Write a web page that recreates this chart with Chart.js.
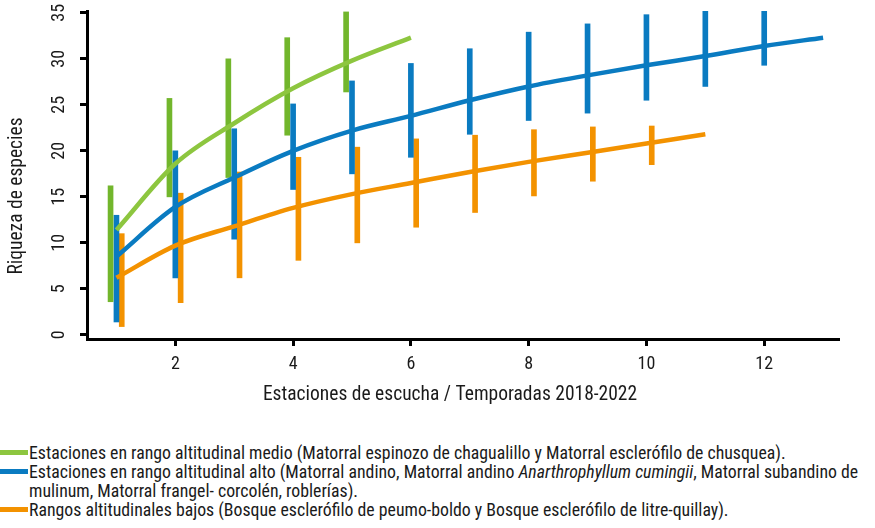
<!DOCTYPE html>
<html>
<head>
<meta charset="utf-8">
<script src="https://cdn.jsdelivr.net/npm/chart.js@4.4.0/dist/chart.umd.min.js"></script>
<style>
  body { margin: 0; background: #fff; font-family: "Roboto Condensed", "DejaVu Sans Condensed", sans-serif; }
  #wrap { position: relative; width: 875px; height: 410px; }
  #legend { position: absolute; left: 0; top: 443px; width: 875px; font-size: 17.8px; line-height: 19px; color: #1a1a1a; white-space: nowrap; }
  .row { position: relative; padding-left: 29px; }
  .sw { position: absolute; left: 0; top: 7px; width: 28px; height: 5px; }
</style>
</head>
<body>
<div id="wrap"><canvas id="myChart" width="875" height="410"></canvas></div>
<div id="legend">
  <div class="row"><span class="sw" style="background:#8dc63f"></span>Estaciones en rango altitudinal medio (Matorral espinozo de chagualillo y Matorral esclerófilo de chusquea).</div>
  <div class="row"><span class="sw" style="background:#0a7bc1"></span>Estaciones en rango altitudinal alto (Matorral andino, Matorral andino <i>Anarthrophyllum cumingii</i>, Matorral subandino de<br>mulinum, Matorral frangel- corcolén, roblerías).</div>
  <div class="row"><span class="sw" style="background:#f39200"></span>Rangos altitudinales bajos (Bosque esclerófilo de peumo-boldo y Bosque esclerófilo de litre-quillay).</div>
</div>
<script>
//DATA - estaciones (eje x) y riqueza de especies
const medioX = [1, 2, 3, 4, 5, 6];
const medioMean = [11.4, 18.6, 23.0, 26.8, 29.8, 32.3];
const medioLow = [3.6, 15.0, 17.1, 21.7, 26.4];
const medioHigh = [16.2, 25.7, 30.0, 32.3, 35.1];

const altoX = [1, 2, 3, 4, 5, 6, 7, 8, 9, 10, 11, 12, 13];
const altoMean = [8.5, 13.9, 17.1, 20.0, 22.2, 23.8, 25.5, 27.0, 28.2, 29.3, 30.3, 31.4, 32.3];
const altoLow = [1.4, 6.2, 10.4, 15.8, 17.5, 19.3, 21.8, 23.3, 24.1, 25.5, 27.0, 29.3];
const altoHigh = [13.0, 20.0, 22.4, 25.1, 27.6, 29.5, 31.1, 32.9, 33.8, 34.8, 35.2, 35.2];

const bajoX = [1, 2, 3, 4, 5, 6, 7, 8, 9, 10, 11];
const bajoMean = [6.2, 9.7, 11.8, 13.8, 15.3, 16.5, 17.7, 18.8, 19.8, 20.8, 21.8];
const bajoLow = [0.9, 3.5, 6.2, 8.1, 10.0, 11.7, 13.3, 15.1, 16.7, 18.5];
const bajoHigh = [11.0, 15.4, 17.7, 19.3, 20.4, 21.3, 21.7, 22.3, 22.6, 22.7];

const xTicks = [2, 4, 6, 8, 10, 12];
const yTicks = [0, 5, 10, 15, 20, 25, 30, 35];

const FONT = '"Roboto Condensed", "DejaVu Sans Condensed", sans-serif';

//builds the mean curve and the floating bars for one group
var lineSet = function (xs, ys, color) {
  return {
    type: "line",
    data: xs.map((x, i) => ({ x: x, y: ys[i] })),
    borderColor: color,
    borderWidth: 4.5,
    pointRadius: 0,
    tension: 0.4,
    cubicInterpolationMode: "monotone",
    order: 0,
  };
};
var barSet = function (xs, lows, highs, color, dodge) {
  return {
    type: "bar",
    data: lows.map((lo, i) => ({ x: xs[i] + dodge, y: [lo, highs[i]] })),
    backgroundColor: color,
    barThickness: 5,
    grouped: false,
    order: 1,
  };
};

const axisTitles = {
  id: "axisTitles",
  afterDraw(chart) {
    const ctx = chart.ctx;
    ctx.save();
    ctx.fillStyle = "#1a1a1a";
    ctx.font = "19.5px " + FONT;
    ctx.textAlign = "center";
    ctx.textBaseline = "middle";
    ctx.fillText("Estaciones de escucha / Temporadas 2018-2022", 450, 395);
    ctx.translate(17, 196);
    ctx.rotate(-Math.PI / 2);
    ctx.fillText("Riqueza de especies", 0, 0);
    ctx.restore();
  },
};

//keep the plot box fixed, no extra room for the labels
var noPad = function (s) {
  s.paddingTop = 0; s.paddingBottom = 0; s.paddingLeft = 0; s.paddingRight = 0;
};

const config = {
  type: "bar",
  data: {
    datasets: [
      lineSet(medioX, medioMean, "#8dc63f"),
      lineSet(altoX, altoMean, "#0a7bc1"),
      lineSet(bajoX, bajoMean, "#f39200"),
      barSet(medioX, medioLow, medioHigh, "#72b62c", -0.1),
      barSet(altoX, altoLow, altoHigh, "#0a7bc1", 0),
      barSet(bajoX, bajoLow, bajoHigh, "#f39200", 0.09),
    ],
  },
  options: {
    responsive: false,
    animation: false,
    layout: { autoPadding: false, padding: { left: 0, right: 36, top: 11, bottom: 0 } },
    plugins: { legend: { display: false }, tooltip: { enabled: false } },
    scales: {
      x: {
        type: "linear",
        min: 0.5,
        max: 13.27,
        offset: false,
        afterBuildTicks: (s) => { s.ticks = xTicks.map((v) => ({ value: v })); },
        afterFit: (s) => { s.height = 71; noPad(s); },
        border: { color: "#000", width: 3 },
        grid: { offset: false, drawOnChartArea: false, tickLength: 7, tickWidth: 3, tickColor: "#000" },
        ticks: { color: "#1a1a1a", font: { family: FONT, size: 18 }, padding: 8, maxRotation: 0 },
      },
      y: {
        min: -0.45,
        max: 35.2,
        afterBuildTicks: (s) => { s.ticks = yTicks.map((v) => ({ value: v })); },
        afterFit: (s) => { s.width = 87; noPad(s); },
        border: { color: "#000", width: 3 },
        grid: { offset: false, drawOnChartArea: false, tickLength: 7, tickWidth: 3, tickColor: "#000" },
        ticks: { color: "#1a1a1a", font: { family: FONT, size: 18 }, padding: 12, minRotation: 90, maxRotation: 90, crossAlign: "center" },
      },
    },
  },
  plugins: [axisTitles],
};

const myChart = new Chart(document.getElementById("myChart"), config);
</script>
</body>
</html>
